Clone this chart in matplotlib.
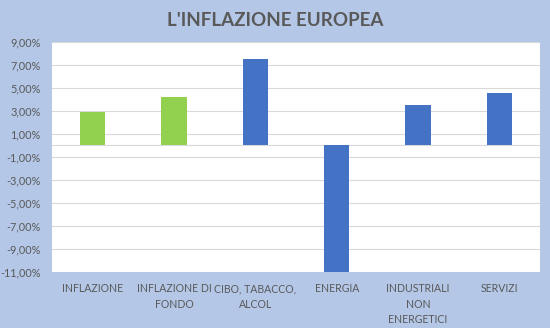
import matplotlib.pyplot as plt
import numpy as np
from matplotlib.ticker import FuncFormatter

categorie = ["INFLAZIONE", "INFLAZIONE DI\nFONDO", "CIBO, TABACCO,\nALCOL", "ENERGIA",
             "INDUSTRIALI\nNON\nENERGETICI", "SERVIZI"]
valori = [2.9, 4.2, 7.5, -11.2, 3.5, 4.6]
colori = ["#92d050", "#92d050", "#4472c4", "#4472c4", "#4472c4", "#4472c4"]
y_ticks = np.arange(-11, 10, 2)

plt.rcParams['font.family'] = ['Lato', 'DejaVu Sans']

fig = plt.figure(figsize=(5.5, 3.28), dpi=100)
fig.patch.set_facecolor("#b4c7e7")
ax = fig.add_axes([0.0945, 0.1707, 0.8875, 0.7013])
ax.set_facecolor("white")

x = np.arange(len(categorie))
ax.bar(x, valori, width=0.31, color=colori, zorder=3)

ax.set_ylim(-11, 9)
ax.set_xlim(-0.5, len(categorie) - 0.5)
ax.set_yticks(y_ticks)
ax.yaxis.set_major_formatter(FuncFormatter(lambda v, p: f"{v:.2f}%".replace(".", ",")))
ax.grid(axis="y", color="#d9d9d9", linewidth=0.8, zorder=0)
ax.axhline(0, color="#d9d9d9", linewidth=0.8, zorder=1)

ax.set_xticks(x)
ax.set_xticklabels(categorie, fontsize=7.6, color="#595959", linespacing=1.5)
ax.tick_params(axis="y", length=0, pad=8, labelsize=7.8, labelcolor="#595959")
ax.tick_params(axis="x", length=0, pad=8)
for s in ax.spines.values():
    s.set_visible(False)

fig.text(0.5, 0.937, "L'INFLAZIONE EUROPEA", ha="center", va="center",
         fontsize=13.5, fontweight="bold", color="#595959")

fig.savefig("out.png", dpi=100, facecolor=fig.get_facecolor())
